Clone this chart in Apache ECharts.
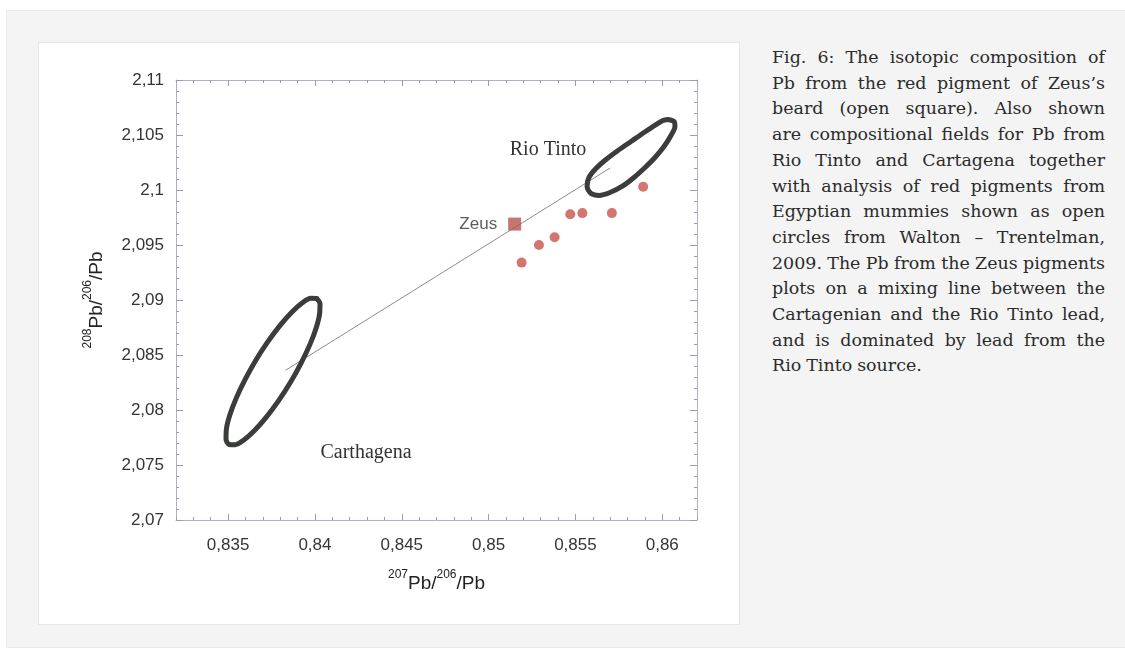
<!DOCTYPE html>
<html>
<head>
<meta charset="utf-8">
<script src="https://cdn.jsdelivr.net/npm/echarts@6/dist/echarts.min.js"></script>
<style>
  html, body { margin: 0; padding: 0; background: #ffffff; width: 1125px; height: 650px; overflow: hidden; }
  #panel { position: absolute; left: 6px; top: 10px; width: 1125px; height: 638px; background: #f4f4f4; border: 1px solid #ebebeb; box-sizing: border-box; }
  #card { position: absolute; left: 38px; top: 42px; width: 702px; height: 583px; background: #ffffff; border: 1px solid #e6e6e6; box-sizing: border-box; }
  #chart { position: absolute; left: 0; top: 0; width: 1125px; height: 650px; }
  #caption { position: absolute; left: 772px; top: 45px; width: 333px; font-family: "DejaVu Serif", serif; font-size: 17px; line-height: 25.7px; color: #2b2b2b; }
  #caption .ln { white-space: nowrap; text-align: justify; text-align-last: justify; }
  #caption .ln.last { text-align-last: left; }
  #caption .probe { position: absolute; visibility: hidden; white-space: nowrap; left: 0; top: 0; }
</style>
</head>
<body>
<div id="panel"></div>
<div id="card"></div>
<div id="caption"></div>
<div id="chart"></div>
<script>
// Lead isotope ratios: 207Pb/206Pb (x) against 208Pb/206Pb (y)

// Outline of the Cartagena compositional field (closed loop)
const cartagenaX = [0.84011, 0.84029, 0.84027, 0.84008, 0.83972, 0.83921, 0.83860, 0.83791, 0.83720, 0.83652,
                    0.83591, 0.83541, 0.83506, 0.83488, 0.83490, 0.83509, 0.83545, 0.83596, 0.83657, 0.83726,
                    0.83797, 0.83865, 0.83926, 0.83976, 0.84011];
const cartagenaY = [2.09013, 2.08965, 2.08876, 2.08751, 2.08599, 2.08429, 2.08254, 2.08085, 2.07935, 2.07813,
                    2.07727, 2.07685, 2.07687, 2.07735, 2.07824, 2.07949, 2.08101, 2.08271, 2.08446, 2.08615,
                    2.08765, 2.08887, 2.08973, 2.09015, 2.09013];

// Outline of the Rio Tinto compositional field (closed loop)
const rioTintoX = [0.86033, 0.86068, 0.86073, 0.86050, 0.86010, 0.85958, 0.85901, 0.85837, 0.85768, 0.85699,
                   0.85636, 0.85590, 0.85567, 0.85578, 0.85618, 0.85676, 0.85745, 0.85820, 0.85895, 0.85964,
                   0.86004, 0.86033];
const rioTintoY = [2.10641, 2.10623, 2.10577, 2.10495, 2.10395, 2.10295, 2.10205, 2.10114, 2.10032, 2.09977,
                   2.09950, 2.09968, 2.10032, 2.10114, 2.10195, 2.10277, 2.10359, 2.10441, 2.10523, 2.10595,
                   2.10632, 2.10641];

// Red pigments from Egyptian mummies
const mummyX = [0.8519, 0.8529, 0.8538, 0.8547, 0.8554, 0.8571, 0.8589];
const mummyY = [2.0934, 2.0950, 2.0957, 2.0978, 2.0979, 2.0979, 2.1003];

// Red pigment of Zeus's beard
const zeusX = [0.8515];
const zeusY = [2.0969];

// Mixing line between the two lead sources
const mixX = [0.8383, 0.8570];
const mixY = [2.0836, 2.1020];

// Axis ranges and tick values
const xRange = [0.832, 0.862];
const yRange = [2.07, 2.11];
const xMajorTicks = [0.835, 0.84, 0.845, 0.85, 0.855, 0.86];
const yInterval = 0.005;
const xMinorInterval = 0.001;

// Caption lines
const captionLines = [
  "Fig. 6: The isotopic composition of",
  "Pb from the red pigment of Zeus\u2019s",
  "beard (open square). Also shown",
  "are compositional fields for Pb from",
  "Rio Tinto and Cartagena together",
  "with analysis of red pigments from",
  "Egyptian mummies shown as open",
  "circles from Walton \u2013 Trentelman,",
  "2009. The Pb from the Zeus pigments",
  "plots on a mixing line between the",
  "Cartagenian and the Rio Tinto lead,",
  "and is dominated by lead from the",
  "Rio Tinto source."
];

const cap = document.getElementById('caption');
captionLines.forEach((t, i) => {
  const d = document.createElement('div');
  d.className = 'ln' + (i === captionLines.length - 1 ? ' last' : '');
  d.textContent = t;
  cap.appendChild(d);
});
// size the caption type, then tighten word gaps so every line fits the column
(function fitCaption() {
  const colWidth = 331;
  const lastLineWidth = 151;
  const probe = document.createElement('span');
  probe.className = 'probe';
  cap.appendChild(probe);
  const measure = t => { probe.textContent = t; return probe.getBoundingClientRect().width; };
  let fs = 17;
  cap.style.fontSize = fs + 'px';
  fs = Math.min(19, fs * lastLineWidth / measure(captionLines[captionLines.length - 1]));
  cap.style.fontSize = fs.toFixed(2) + 'px';
  let need = 0;
  captionLines.forEach(t => {
    const spaces = (t.match(/ /g) || []).length;
    const over = measure(t) - colWidth;
    if (over > 0 && spaces) need = Math.max(need, over / spaces);
  });
  if (need > 0) cap.style.wordSpacing = (-need).toFixed(2) + 'px';
  cap.removeChild(probe);
})();

const zip = (xs, ys) => xs.map((x, i) => [x, ys[i]]);
const fmt = v => String(+v.toFixed(3)).replace('.', ',');

const axisColor = '#aeb0cc';
const tickColor = '#9a9bb0';
const sans = '"Liberation Sans", Arial, sans-serif';
const serif = '"Liberation Serif", "Times New Roman", serif';
const gridBox = { left: 176, top: 80, width: 521, height: 440 };
const fieldStroke = { color: '#3a3d3a', width: 5, cap: 'round', join: 'round' };

const nameRich = {
  b: { fontSize: 19, fontFamily: sans, color: '#222', lineHeight: 24, verticalAlign: 'bottom' },
  s: { fontSize: 12, fontFamily: sans, color: '#222', lineHeight: 24, verticalAlign: 'top', padding: [0, 0, 9, 0] }
};
const tickLabel = { fontSize: 17, fontFamily: sans, color: '#353535' };

const chart = echarts.init(document.getElementById('chart'), null, { renderer: 'canvas' });

chart.setOption({
  backgroundColor: 'transparent',
  animation: false,
  grid: [
    Object.assign({ containLabel: false }, gridBox),
    Object.assign({ containLabel: false }, gridBox)
  ],
  xAxis: [
    {
      type: 'value', gridIndex: 0, position: 'bottom', min: xRange[0], max: xRange[1],
      axisLine: { show: true, lineStyle: { color: axisColor, width: 1 } },
      axisTick: { show: true, inside: true, length: 6, customValues: xMajorTicks, lineStyle: { color: tickColor } },
      axisLabel: Object.assign({ customValues: xMajorTicks, formatter: fmt, margin: 17 }, tickLabel),
      splitLine: { show: false },
      name: '{s|207}{b|Pb/}{s|206}{b|/Pb}',
      nameLocation: 'middle', nameGap: 49,
      nameTextStyle: { rich: nameRich }
    },
    {
      type: 'value', gridIndex: 0, position: 'top', min: xRange[0], max: xRange[1],
      axisLine: { show: true, lineStyle: { color: axisColor, width: 1 } },
      axisTick: { show: true, inside: true, length: 6, customValues: xMajorTicks, lineStyle: { color: tickColor } },
      axisLabel: { show: false },
      splitLine: { show: false }
    },
    {
      type: 'value', gridIndex: 1, position: 'bottom', min: xRange[0], max: xRange[1], interval: xMinorInterval,
      axisLine: { show: false },
      axisTick: { show: true, inside: true, length: 3, lineStyle: { color: tickColor } },
      axisLabel: { show: false },
      splitLine: { show: false }
    },
    {
      type: 'value', gridIndex: 1, position: 'top', min: xRange[0], max: xRange[1], interval: xMinorInterval,
      axisLine: { show: false },
      axisTick: { show: true, inside: true, length: 3, lineStyle: { color: tickColor } },
      axisLabel: { show: false },
      splitLine: { show: false }
    }
  ],
  yAxis: [
    {
      type: 'value', gridIndex: 0, position: 'left', min: yRange[0], max: yRange[1], interval: yInterval,
      axisLine: { show: true, lineStyle: { color: axisColor, width: 1 } },
      axisTick: { show: true, inside: true, length: 7, lineStyle: { color: tickColor } },
      minorTick: { show: true, splitNumber: 5, length: 3, lineStyle: { color: tickColor } },
      axisLabel: Object.assign({ formatter: fmt, margin: 12 }, tickLabel),
      splitLine: { show: false },
      name: '{s|208}{b|Pb/}{s|206}{b|/Pb}',
      nameLocation: 'middle', nameGap: 70, nameRotate: 90,
      nameTextStyle: { rich: nameRich }
    },
    {
      type: 'value', gridIndex: 0, position: 'right', min: yRange[0], max: yRange[1], interval: yInterval,
      axisLine: { show: true, lineStyle: { color: axisColor, width: 1 } },
      axisTick: { show: true, inside: true, length: 7, lineStyle: { color: tickColor } },
      minorTick: { show: true, splitNumber: 5, length: 3, lineStyle: { color: tickColor } },
      axisLabel: { show: false },
      splitLine: { show: false }
    },
    {
      type: 'value', gridIndex: 1, min: yRange[0], max: yRange[1], show: false
    }
  ],
  series: [
    {
      name: 'Mixing line', type: 'line', xAxisIndex: 0, yAxisIndex: 0,
      data: zip(mixX, mixY), symbol: 'none', silent: true, z: 1,
      lineStyle: { color: '#8c8c8c', width: 1 }
    },
    {
      name: 'Carthagena', type: 'line', xAxisIndex: 0, yAxisIndex: 0,
      data: zip(cartagenaX, cartagenaY), symbol: 'none', smooth: 0.3, z: 2,
      lineStyle: fieldStroke
    },
    {
      name: 'Rio Tinto', type: 'line', xAxisIndex: 0, yAxisIndex: 0,
      data: zip(rioTintoX, rioTintoY), symbol: 'none', smooth: 0.3, z: 2,
      lineStyle: fieldStroke
    },
    {
      name: 'Egyptian mummies', type: 'scatter', xAxisIndex: 0, yAxisIndex: 0,
      data: zip(mummyX, mummyY), symbol: 'circle', symbolSize: 10, z: 3,
      itemStyle: { color: '#c8544e' }
    },
    {
      name: 'Zeus', type: 'scatter', xAxisIndex: 0, yAxisIndex: 0,
      data: zip(zeusX, zeusY), symbol: 'rect', symbolSize: 13, z: 4,
      itemStyle: { color: '#b5554f' },
      label: { show: true, position: 'left', distance: 11, formatter: 'Zeus', fontSize: 17, fontFamily: sans, color: '#333' }
    }
  ],
  graphic: [
    { type: 'text', x: 548, y: 150, style: { text: 'Rio Tinto', font: '20px ' + serif, fill: '#333', align: 'center', verticalAlign: 'middle' } },
    { type: 'text', x: 366, y: 453, style: { text: 'Carthagena', font: '20px ' + serif, fill: '#333', align: 'center', verticalAlign: 'middle' } }
  ]
});
</script>
</body>
</html>
